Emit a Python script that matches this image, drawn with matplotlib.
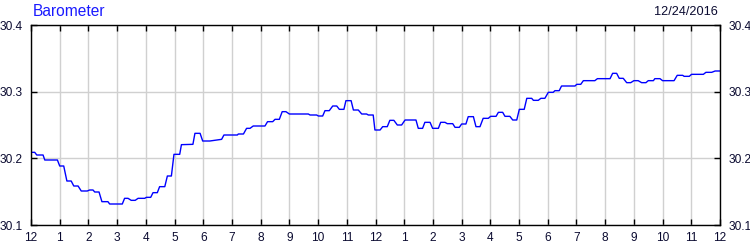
#!/usr/bin/env python3
# -*- coding: UTF-8 -*-
import matplotlib

matplotlib.use('Agg')
import matplotlib.pyplot as plt

# hours since midnight, pressure (inHg)
hours = [0.00, 0.13, 0.20, 0.42, 0.48, 0.92, 1.00, 1.14, 1.25, 1.40,
         1.49, 1.64, 1.75, 1.96, 2.04, 2.16, 2.22, 2.37, 2.47, 2.68,
         2.74, 3.18, 3.26, 3.38, 3.49, 3.63, 3.73, 3.96, 4.02, 4.17,
         4.25, 4.40, 4.48, 4.66, 4.75, 4.89, 4.98, 5.18, 5.24, 5.64,
         5.71, 5.89, 5.98, 6.23, 6.47, 6.64, 6.72, 7.19, 7.22, 7.40,
         7.51, 7.63, 7.74, 8.15, 8.24, 8.42, 8.50, 8.65, 8.75, 8.88,
         9.00, 9.66, 9.72, 9.95, 10.01, 10.16, 10.24, 10.39, 10.51, 10.65,
         10.74, 10.90, 10.97, 11.15, 11.23, 11.40, 11.52, 11.69, 11.75, 11.92,
         11.98, 12.16, 12.25, 12.41, 12.50, 12.64, 12.76, 12.91, 13.03, 13.41,
         13.49, 13.64, 13.72, 13.90, 13.99, 14.19, 14.27, 14.42, 14.50, 14.69,
         14.77, 14.92, 15.00, 15.15, 15.23, 15.41, 15.50, 15.64, 15.75, 15.93,
         16.01, 16.20, 16.28, 16.43, 16.51, 16.68, 16.78, 16.92, 17.01, 17.18,
         17.27, 17.44, 17.50, 17.67, 17.76, 17.90, 18.02, 18.19, 18.25, 18.40,
         18.48, 18.95, 19.01, 19.15, 19.24, 19.64, 19.73, 20.17, 20.26, 20.40,
         20.49, 20.63, 20.75, 20.89, 21.00, 21.15, 21.27, 21.42, 21.50, 21.68,
         21.73, 21.91, 22.00, 22.40, 22.51, 22.70, 22.75, 22.93, 23.01, 23.42,
         23.51, 23.71, 23.83, 24.00]
pressure = [30.209, 30.209, 30.205, 30.205, 30.1975, 30.1975, 30.1885, 30.1885, 30.166, 30.166,
            30.1585, 30.1585, 30.151, 30.151, 30.1525, 30.1525, 30.1495, 30.1495, 30.135, 30.135,
            30.1315, 30.1315, 30.140, 30.140, 30.137, 30.137, 30.140, 30.140, 30.1415, 30.1415,
            30.1485, 30.1485, 30.1575, 30.1575, 30.1735, 30.1735, 30.206, 30.206, 30.2205, 30.221,
            30.2375, 30.2375, 30.226, 30.226, 30.2275, 30.2285, 30.235, 30.235, 30.2365, 30.2365,
            30.245, 30.245, 30.2485, 30.2485, 30.255, 30.255, 30.2585, 30.2585, 30.270, 30.270,
            30.2665, 30.2665, 30.265, 30.265, 30.2635, 30.2635, 30.2715, 30.2715, 30.2785, 30.2785,
            30.2735, 30.2735, 30.2865, 30.2865, 30.2725, 30.2725, 30.2665, 30.2665, 30.265, 30.265,
            30.2425, 30.2425, 30.2475, 30.2475, 30.257, 30.257, 30.250, 30.250, 30.2575, 30.2575,
            30.245, 30.245, 30.254, 30.254, 30.245, 30.245, 30.254, 30.254, 30.252, 30.252,
            30.2465, 30.2465, 30.2515, 30.2515, 30.2625, 30.2625, 30.2475, 30.2475, 30.260, 30.260,
            30.263, 30.263, 30.269, 30.269, 30.263, 30.263, 30.2575, 30.2575, 30.2735, 30.2735,
            30.290, 30.290, 30.287, 30.287, 30.290, 30.290, 30.299, 30.299, 30.3015, 30.3015,
            30.3085, 30.3085, 30.311, 30.311, 30.3165, 30.3165, 30.3195, 30.3195, 30.3275, 30.3275,
            30.320, 30.320, 30.3135, 30.3135, 30.3165, 30.3165, 30.3135, 30.3135, 30.3165, 30.3165,
            30.3195, 30.3195, 30.3165, 30.3165, 30.3245, 30.3245, 30.323, 30.323, 30.326, 30.326,
            30.329, 30.329, 30.331, 30.331]

xticks = list(range(25))
xlabels = ['12'] + [str(i) for i in range(1, 12)] + ['12'] + [str(i) for i in range(1, 12)] + ['12']
yticks = [30.1, 30.2, 30.3, 30.4]
ylabels = ['30.1', '30.2', '30.3', '30.4']

plt.rcParams['font.family'] = ['Liberation Sans', 'DejaVu Sans']
labelColor = '#0a0a30'

fig = plt.figure(figsize=(7.5, 2.5), dpi=100)
ax = fig.add_axes([31 / 750, 1 - 225 / 250, 689 / 750, 200 / 250])

ax.plot(hours, pressure, color='#0000ff', linewidth=1.0)

ax.set_xlim(0, 24)
ax.set_ylim(30.1, 30.4)
ax.set_xticks(xticks)
ax.set_xticklabels(xlabels)
ax.set_yticks(yticks)
ax.set_yticklabels(ylabels)
ax.grid(True, color='#d0d0d0', linewidth=1.0)
ax.set_axisbelow(True)

ax.tick_params(axis='both', direction='in', length=4, width=1, color='black',
               labelsize=8.6, labelcolor=labelColor, top=True, right=True)
ax.tick_params(axis='y', labelright=True, pad=6)
ax.tick_params(axis='x', pad=5)
for side in ax.spines.values():
    side.set_linewidth(1.0)
    side.set_color('black')

fig.text(33 / 750, 1 - 12 / 250, 'Barometer', color='#1a1aff', fontsize=11.2,
         ha='left', va='center')
fig.text(718 / 750, 1 - 12 / 250, '12/24/2016', color=labelColor, fontsize=9.2,
         ha='right', va='center')

fig.savefig('out.png', dpi=100)
plt.close('all')
